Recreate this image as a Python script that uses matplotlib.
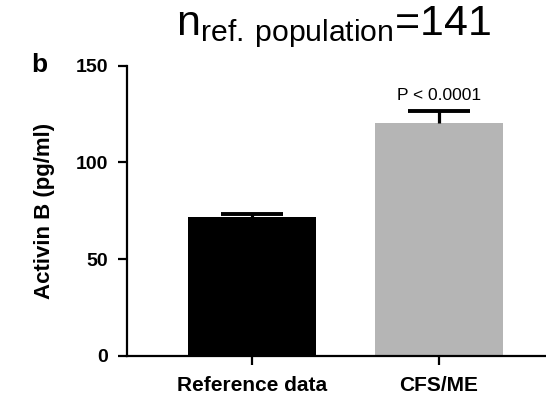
import numpy as np
import matplotlib
matplotlib.use("Agg")
import matplotlib.pyplot as plt

plt.rcParams['font.family'] = ['Liberation Sans', 'DejaVu Sans']
plt.rcParams['mathtext.fontset'] = 'custom'
plt.rcParams['mathtext.rm'] = 'Liberation Sans'

groups = ['Reference data', 'CFS/ME']
means = [71.5, 120.3]
sem_upper = [1.6, 6.0]
bar_colors = ['#000000', '#b5b5b5']
p_label = 'P < 0.0001'
n_ref = 141

fig = plt.figure(figsize=(5.46, 3.98), dpi=100)
ax = fig.add_axes([0.2326, 0.1063, 0.7674, 0.7287])

x = np.arange(len(groups))
ax.bar(x, means, width=0.684, color=bar_colors, zorder=2)
# upper-only error bars (stem + cap)
cap_w = 0.33
for xi, m, e in zip(x, means, sem_upper):
    ax.vlines(xi, m, m + e, color='black', lw=2.3, zorder=3)
    ax.hlines(m + e, xi - cap_w / 2, xi + cap_w / 2, color='black', lw=2.8, zorder=3)

ax.set_xlim(-0.668, 1.572)
ax.set_ylim(0, 150)
ax.set_yticks([0, 50, 100, 150])
ax.set_xticks(x)
ax.set_xticklabels(groups, fontsize=15, fontweight='bold')
for lab in ax.get_yticklabels():
    lab.set_fontweight('bold')
    lab.set_fontsize(14)
ax.set_ylabel('Activin B (pg/ml)', fontsize=16, fontweight='bold', labelpad=15)

for s in ['top', 'right']:
    ax.spines[s].set_visible(False)
for s in ['left', 'bottom']:
    ax.spines[s].set_linewidth(1.6)
ax.tick_params(axis='both', width=1.6, length=6.5, direction='out', pad=7)
ax.tick_params(axis='x', pad=8)

ax.text(x[1], 132.3, p_label, ha='center', va='baseline', fontsize=12.5)

fig.text(0.072, 0.819, 'b', fontsize=19, fontweight='bold', ha='center', va='baseline')
fig.text(0.322, 0.912, r'n$_{\mathrm{ref.\,population}}$=' + str(n_ref),
         fontsize=31, ha='left', va='baseline')

fig.savefig('out.png', dpi=100)
